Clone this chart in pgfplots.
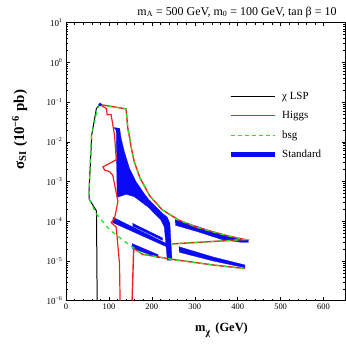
\documentclass[border=0pt]{standalone}
\usepackage{fontspec}
\setmainfont{Liberation Serif}
\usepackage{pgfplots}
\pgfplotsset{compat=1.18}
\usetikzlibrary{calc}
\definecolor{higgsred}{RGB}{245,30,30}
\definecolor{bsggreen}{RGB}{30,235,30}
\definecolor{stdblue}{RGB}{10,10,245}

\begin{document}
\begin{tikzpicture}
\begin{axis}[
    name=ax,
    scale only axis, width=279bp, height=278bp,
    xmin=0, xmax=650, ymode=log, ymin=1e-6, ymax=10,
    xtick={0,100,200,300,400,500,600},
    xticklabels={0,100,200,300,400,500,600},
    minor x tick num=4,
    ytick={1e-6,1e-5,1e-4,1e-3,1e-2,1e-1,1,10},
    yticklabels={10\textsuperscript{−6},10\textsuperscript{−5},10\textsuperscript{−4},10\textsuperscript{−3},10\textsuperscript{−2},10\textsuperscript{−1},10\textsuperscript{0},10\textsuperscript{1}},
    tick align=inside,
    major tick length=3.5bp, minor tick length=2bp,
    axis line style={line width=1pt},
    tick style={black, line width=0.5pt},
    xticklabel style={font=\fontsize{8.5}{10}\selectfont},
    yticklabel style={font=\fontsize{9}{10}\selectfont},
    legend cell align=left,
    legend style={at={(rel axis cs:0.57,0.765)}, anchor=north west, draw=none, fill=none,
        font=\fontsize{11}{13}\selectfont, row sep=6.5bp,
        /tikz/every odd column/.append style={column sep=3bp}},
    legend image code/.code={\draw[#1] (0bp,0bp) -- (44bp,0bp);},
]
% legend entries
\addlegendimage{black, line width=1pt}
\addlegendentry{χ LSP}
\addlegendimage{higgsred, line width=1.3pt}
\addlegendentry{Higgs}
\addlegendimage{bsggreen, line width=1.4pt, dash pattern=on 4bp off 3bp}
\addlegendentry{bsg}
\addlegendimage{stdblue, line width=5pt}
\addlegendentry{Standard}

% Standard (blue) regions
\addplot[fill=stdblue, draw=stdblue, line width=0.3pt, forget plot] coordinates {
    (111,2.29e-2) (125,2.19e-2) (128.4,1.23e-2) (136,5.62e-3) (148,2.14e-3)
    (163,1e-3) (182,5.01e-4) (194,3.39e-4) (225,1.58e-4) (236,1.26e-4)
    (242,8.91e-5) (247,1.05e-5) (236,1.05e-5) (229,7.24e-5) (221,1.07e-4)
    (192,2.24e-4) (159,4.17e-4) (140,4.79e-4) (119,3.98e-4) (117,1.91e-2)};
\addplot[fill=stdblue, draw=stdblue, line width=0.3pt, forget plot] coordinates {
    (109.5,1.26e-4) (232,2.82e-5) (234,2.29e-5) (108,9.33e-5)};
\addplot[fill=stdblue, draw=stdblue, line width=0.3pt, forget plot] coordinates {
    (155,8.91e-5) (225,3.80e-5) (225,3.31e-5) (155,7.59e-5)};
\addplot[fill=stdblue, draw=stdblue, line width=0.3pt, forget plot] coordinates {
    (154,2.75e-5) (214,1.45e-5) (216,1.20e-5) (154,2.09e-5)};
\addplot[fill=stdblue, draw=stdblue, line width=0.3pt, forget plot] coordinates {
    (254,1.10e-4) (309,7.24e-5) (363,4.57e-5) (425,3.31e-5) (425,2.95e-5)
    (409,2.95e-5) (363,3.47e-5) (309,5.37e-5) (255,7.94e-5)};
\addplot[fill=stdblue, draw=stdblue, line width=0.3pt, forget plot] coordinates {
    (263,2.29e-5) (343,1.26e-5) (417,7.94e-6) (417,6.76e-6) (343,1e-5) (264,1.66e-5)};

% chi LSP
\addplot[black, line width=1pt, forget plot] coordinates {
    (72.6,1e-6) (71,1.82e-4) (54,3.63e-4) (54,6.76e-4) (60,1.51e-2) (70.8,6.92e-2) (78.5,8.71e-2)};

% Higgs
\addplot[higgsred, line width=1.4pt, forget plot] coordinates {
    (78.5,8.71e-2) (140,6.76e-2) (144,2.19e-2) (148,1.32e-2) (153,6.31e-3) (159,3.16e-3)
    (172,1.26e-3) (195,4.37e-4) (224,1.95e-4) (263,1.07e-4) (302,7.24e-5) (340,5.50e-5)
    (378,4.27e-5) (417,3.47e-5) (247,2.69e-5)};
\addplot[higgsred, line width=1.4pt, forget plot] coordinates {
    (154,1e-6) (157.7,2.09e-5) (178,1.48e-5) (255,1.07e-5) (343,7.94e-6) (417,6.46e-6)};
\addplot[higgsred, line width=1.2pt, forget plot] coordinates {
    (78.5,8.71e-2) (94,6.92e-2) (96,4.79e-2) (105,4.90e-2) (113,1.48e-2) (117,3.80e-3)
    (116,3.47e-3) (86,2.34e-3) (90,1.95e-3) (101.5,1.78e-3) (109,1.45e-3) (121,3.16e-4)
    (113,1.17e-4) (105.4,9.33e-5) (117,7.08e-5) (124.6,8.71e-6) (126,1e-6)};

% bsg
\addplot[bsggreen, line width=1.3pt, dash pattern=on 4bp off 4bp, forget plot] coordinates {
    (78.5,8.71e-2) (140,6.76e-2) (144,2.19e-2) (148,1.32e-2) (153,6.31e-3) (159,3.16e-3)
    (172,1.26e-3) (195,4.37e-4) (224,1.95e-4) (263,1.07e-4) (302,7.24e-5) (340,5.50e-5)
    (378,4.27e-5) (417,3.47e-5) (247,2.69e-5)};
\addplot[bsggreen, line width=1.3pt, dash pattern=on 4bp off 4bp, forget plot] coordinates {
    (78.5,8.71e-2) (72,6.31e-2) (67,3.24e-2) (59,1.41e-2) (54,6.76e-4) (54,3.63e-4)
    (70,1.58e-4) (94,7.59e-5) (105,5.75e-5) (132,3.39e-5) (152,2.34e-5) (159,2.09e-5)
    (178,1.48e-5) (255,1.07e-5) (343,7.94e-6) (417,6.46e-6)};

% blue dot at the top corner
\addplot[only marks, mark=*, mark size=1.6pt, stdblue, forget plot] coordinates {(80,8.71e-2)};
\end{axis}

\node[anchor=base east, font=\fontsize{12}{14}\selectfont]
    at ($(ax.north east)+(-5bp,7.5bp)$)
    {m\textsubscript{A} = 500 GeV, m\textsubscript{0} = 100 GeV, tan β = 10};
\node[anchor=base west, font=\fontsize{12.5}{14}\selectfont\bfseries]
    at ($(ax.south west)+(125.7bp,-31bp)$)
    {m\raisebox{-0.6ex}{\fontsize{10}{12}\selectfont χ}\, (GeV)};
\node[anchor=base west, rotate=90, font=\fontsize{15}{17}\selectfont\bfseries]
    at ($(ax.south west)+(-42bp,128bp)$)
    {σ\textsubscript{SI} (10\textsuperscript{−6} pb)};

\pgfresetboundingbox
\path ($(ax.south west)+(-66bp,-44.3bp)$) rectangle ($(ax.north east)+(1bp,22.7bp)$);
\end{tikzpicture}
\end{document}
